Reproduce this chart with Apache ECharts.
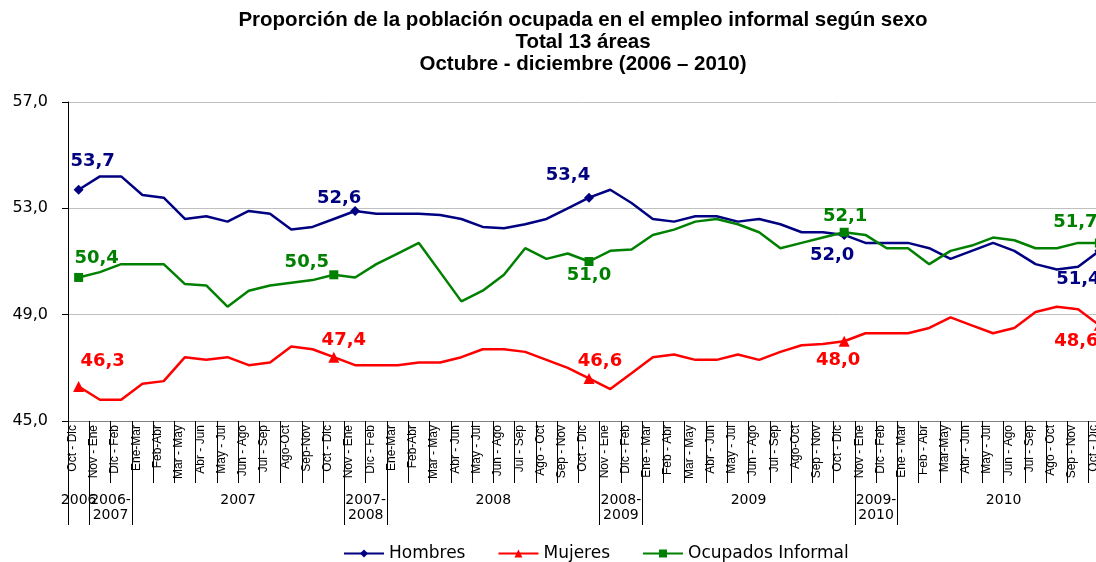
<!DOCTYPE html>
<html><head><meta charset="utf-8">
<script src="https://cdn.jsdelivr.net/npm/echarts@6/dist/echarts.min.js"></script>
<style>html,body{margin:0;padding:0;background:#fff}#c{width:1096px;height:562px}</style>
</head><body><div id="c"></div>
<script>
// ---------- DATA ----------
const titulo = ['Proporción de la población ocupada en el empleo informal según sexo', 'Total 13 áreas', 'Octubre - diciembre (2006 – 2010)'];
const categorias = [
  'Oct - Dic',
  'Nov - Ene','Dic - Feb',
  'Ene-Mar','Feb-Abr','Mar - May','Abr - Jun','May - Jul','Jun - Ago','Jul - Sep','Ago-Oct','Sep-Nov','Oct - Dic',
  'Nov - Ene','Dic - Feb',
  'Ene-Mar','Feb-Abr','Mar - May','Abr - Jun','May - Jul','Jun - Ago','Jul - Sep','Ago - Oct','Sep - Nov','Oct - Dic',
  'Nov - Ene','Dic - Feb',
  'Ene - Mar','Feb - Abr','Mar - May','Abr - Jun','May - Jul','Jun - Ago','Jul - Sep','Ago-Oct','Sep - Nov','Oct - Dic',
  'Nov - Ene','Dic - Feb',
  'Ene - Mar','Feb - Abr','Mar-May','Abr - Jun','May - Jul','Jun - Ago','Jul - Sep','Ago - Oct','Sep - Nov','Oct - Dic'
];
const grupos = ['2006', '2006-\n2007', '2007', '2007-\n2008', '2008', '2008-\n2009', '2009', '2009-\n2010', '2010'];
const gruposInicio = [0, 1, 3, 13, 15, 25, 27, 37, 39];
const gruposFin    = [1, 3, 13, 15, 25, 27, 37, 39, 49];

const hombres = [53.7,54.2,54.2,53.5,53.4,52.6,52.7,52.5,52.9,52.8,52.2,52.3,52.6,
  52.9,52.8,52.8,52.8,52.75,52.6,52.3,52.25,52.4,52.6,53.0,53.4,
  53.7,53.2,52.6,52.5,52.7,52.7,52.5,52.6,52.4,52.1,52.1,52.0,
  51.7,51.7,51.7,51.5,51.1,51.4,51.7,51.4,50.9,50.7,50.8,51.4];
const mujeres = [46.3,45.8,45.8,46.4,46.5,47.4,47.3,47.4,47.1,47.2,47.8,47.7,47.4,
  47.1,47.1,47.1,47.2,47.2,47.4,47.7,47.7,47.6,47.3,47.0,46.6,
  46.2,46.8,47.4,47.5,47.3,47.3,47.5,47.3,47.6,47.85,47.9,48.0,
  48.3,48.3,48.3,48.5,48.9,48.6,48.3,48.5,49.1,49.3,49.2,48.6];
const ocupados = [50.4,50.6,50.9,50.9,50.9,50.15,50.1,49.3,49.9,50.1,50.2,50.3,50.5,
  50.4,50.9,51.3,51.7,50.6,49.5,49.9,50.5,51.5,51.1,51.3,51.0,
  51.4,51.45,52.0,52.2,52.5,52.6,52.4,52.1,51.5,51.7,51.9,52.1,
  52.0,51.5,51.5,50.9,51.4,51.6,51.9,51.8,51.5,51.5,51.7,51.7];

const yMin = 45, yMax = 57, yPaso = 4;

// marked points and their printed labels
const etiquetasHombres  = {0:'53,7', 13:'52,6', 24:'53,4', 36:'52,0', 48:'51,4'};
const etiquetasMujeres  = {0:'46,3', 12:'47,4', 24:'46,6', 36:'48,0', 48:'48,6'};
const etiquetasOcupados = {0:'50,4', 12:'50,5', 24:'51,0', 36:'52,1', 48:'51,7'};

// ---------- STYLE (label placement) ----------
const despHombres  = {0:[14,-28], 13:[-16,-13], 24:[-21,-22], 36:[-12,20], 48:[-21,28]};
const despMujeres  = {0:[24,-25], 12:[10,-17], 24:[11,-17], 36:[-6,19], 48:[-23,16]};
const despOcupados = {0:[18,-19], 12:[-27,-12], 24:[0,14], 36:[1,-16], 48:[-24,-21]};

const FONT = 'DejaVu Sans';

function construir(vals, etiquetas, desp) {
  return vals.map((v, i) => etiquetas[i] !== undefined
    ? { value: v, label: { show: true, formatter: etiquetas[i], position: 'inside', offset: desp[i] } }
    : { value: v, symbol: 'none' });
}

function serie(nombre, vals, etiquetas, desp, color, simbolo, tam) {
  return {
    name: nombre, type: 'line', data: construir(vals, etiquetas, desp),
    symbol: simbolo, symbolSize: tam, showSymbol: true,
    lineStyle: { color: color, width: 2.5 }, itemStyle: { color: color },
    label: { show: false, color: color, fontFamily: FONT, fontWeight: 'bold', fontSize: 18 },
    emphasis: { disabled: true }, clip: false, z: 3
  };
}

const marcas = [];
gruposInicio.forEach(v => marcas.push(v));
marcas.push(gruposFin[gruposFin.length - 1]);
const centros = gruposInicio.map((s, k) => (s + gruposFin[k]) / 2);

function ejeGrupos(valores, conMarcas) {
  return {
    type: 'value', min: 0, max: categorias.length, position: 'bottom',
    axisLine: { show: false }, splitLine: { show: false },
    axisTick: conMarcas ? { show: true, customValues: marcas, length: 104, lineStyle: { color: '#000' } } : { show: false },
    axisLabel: {
      customValues: valores, margin: 72, verticalAlign: 'top', lineHeight: 15,
      showMinLabel: true, showMaxLabel: true, hideOverlap: false,
      fontFamily: FONT, fontSize: 14, color: '#000',
      formatter: v => { const k = centros.indexOf(v); return k >= 0 ? grupos[k] : ''; }
    }
  };
}

const chart = echarts.init(document.getElementById('c'), null, { renderer: 'canvas' });
chart.setOption({
  animation: false,
  backgroundColor: '#fff',
  title: {
    text: titulo.join('\n'), left: 578, textAlign: 'center', top: 4,
    textStyle: { fontFamily: 'Liberation Sans', fontWeight: 'bold', fontSize: 20.5, lineHeight: 22, color: '#000' }
  },
  legend: {
    data: ['Hombres', 'Mujeres', 'Ocupados Informal'],
    left: 338, top: 540, itemWidth: 40, itemHeight: 10, itemGap: 32,
    textStyle: { fontFamily: FONT, fontSize: 17, color: '#000' }
  },
  grid: { left: 68, top: 102, bottom: 141, right: -14, containLabel: false, outerBoundsMode: 'none' },
  xAxis: [
    {
      type: 'category', data: categorias, boundaryGap: true, position: 'bottom',
      axisLine: { lineStyle: { color: '#808080', width: 1 } },
      axisTick: { show: true, interval: 0, length: 62, lineStyle: { color: '#000' } },
      axisLabel: { interval: 0, rotate: 90, margin: 4, fontFamily: 'Liberation Sans', fontSize: 12, color: '#000', verticalAlign: 'bottom' },
      splitLine: { show: false }
    },
    ejeGrupos(centros.slice(1), true),
    ejeGrupos(centros.slice(0, 1), false)
  ],
  yAxis: {
    type: 'value', min: yMin, max: yMax, interval: yPaso,
    name: '%', nameLocation: 'middle', nameGap: 55, nameRotate: 90,
    nameTextStyle: { fontFamily: FONT, fontSize: 13, color: '#000' },
    axisLine: { show: true, lineStyle: { color: '#000' } },
    axisTick: { show: true, length: 6, lineStyle: { color: '#000' } },
    axisLabel: { margin: 20, fontFamily: FONT, fontSize: 16, color: '#000', formatter: v => v.toFixed(1).replace('.', ',') },
    splitLine: { lineStyle: { color: '#c0c0c0' } }
  },
  series: [
    serie('Hombres', hombres, etiquetasHombres, despHombres, '#000080', 'diamond', 10),
    serie('Mujeres', mujeres, etiquetasMujeres, despMujeres, '#ff0000', 'triangle', 11),
    serie('Ocupados Informal', ocupados, etiquetasOcupados, despOcupados, '#008000', 'rect', 9)
  ]
});
</script>
</body></html>
